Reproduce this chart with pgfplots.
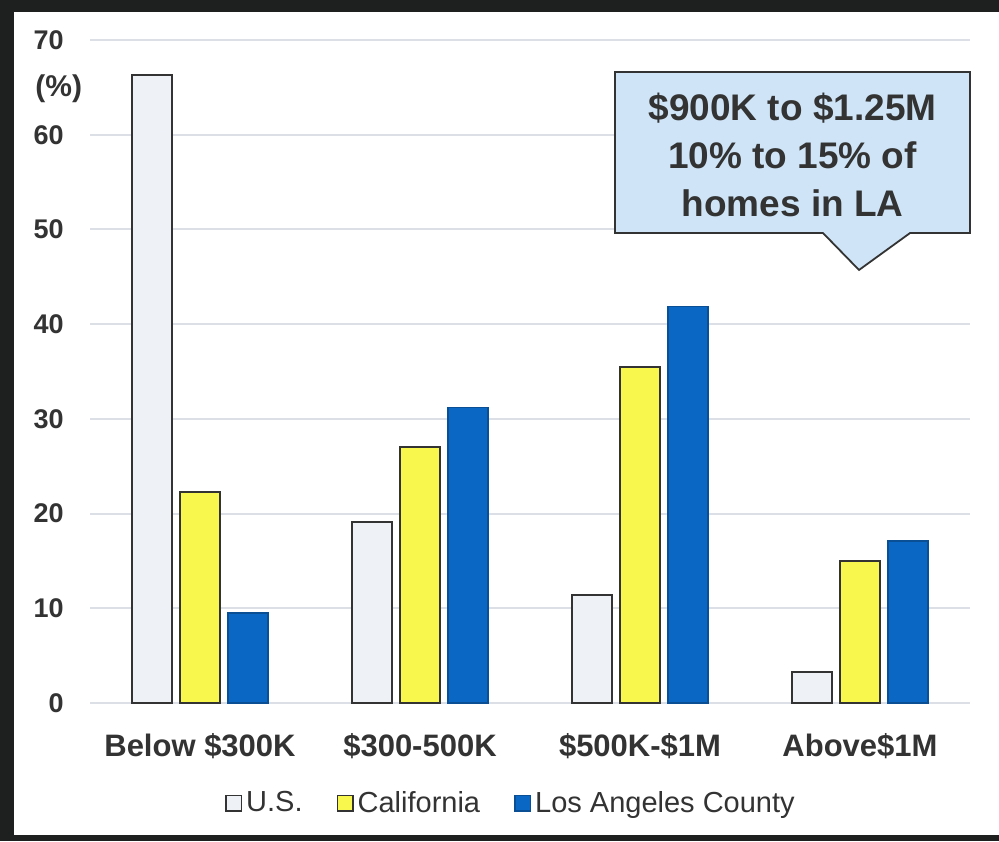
\documentclass[border=0pt]{standalone}
\usepackage{pgfplots}
\pgfplotsset{compat=1.18}
\usepackage{fontspec}
\setmainfont{Liberation Sans}
\definecolor{framedark}{HTML}{1E2020}
\definecolor{usfill}{HTML}{EEF1F6}
\definecolor{cafill}{HTML}{F7F74E}
\definecolor{lafill}{HTML}{0A68C4}
\definecolor{ladraw}{HTML}{0A4E94}
\definecolor{edgegray}{HTML}{333333}
\definecolor{gridgray}{HTML}{DCDFE6}
\definecolor{textgray}{HTML}{333333}
\definecolor{calloutfill}{HTML}{CFE5F7}
\begin{document}
\begin{tikzpicture}
\fill[framedark] (0pt,0pt) rectangle (499.5pt,420.5pt);
\fill[white] (7pt,3pt) rectangle (499.5pt,414.5pt);
\begin{axis}[
  at={(45pt,69pt)}, anchor=south west,
  scale only axis, width=440pt, height=331.5pt,
  ybar, bar width=0.182,
  xmin=-0.5, xmax=3.5, ymin=0, ymax=70,
  ytick={0,10,...,70},
  xtick={0,1,2,3},
  xticklabels={Below \$300K, \$300-500K, \$500K-\$1M, Above\$1M},
  ymajorgrids, grid style={gridgray, line width=1pt},
  axis line style={draw=none},
  major tick length=0pt,
  /pgf/number format/assume math mode=true,
  yticklabel style={font=\fontsize{13.5}{13.5}\selectfont\bfseries, text=textgray, anchor=east, inner sep=0pt, xshift=-13pt},
  xticklabel style={font=\fontsize{15.5}{16}\selectfont\bfseries, text=textgray, anchor=base, inner sep=0pt, yshift=-26.5pt},
  clip=false,
  legend style={at={(0.4795,-0.151)}, anchor=center, draw=none, fill=none,
    legend columns=-1, font=\fontsize{14.5}{15}\selectfont, text=textgray,
    /tikz/every even column/.append style={column sep=15pt},
    nodes={inner sep=2pt}},
  legend image code/.code={\draw[#1, line width=0.7pt] (0pt,-3.9pt) rectangle (7.8pt,3.9pt);},
]
\addplot[fill=usfill, draw=edgegray, line width=1.1pt, bar shift=-0.218] coordinates {(0,66.3) (1,19.1) (2,11.4) (3,3.3)};
\addplot[fill=cafill, draw=edgegray, line width=1.1pt, bar shift=0] coordinates {(0,22.3) (1,27.0) (2,35.5) (3,15.0)};
\addplot[fill=lafill, draw=ladraw, line width=0.6pt, bar shift=0.218] coordinates {(0,9.5) (1,31.2) (2,41.9) (3,17.1)};
\legend{U.S., California, Los Angeles County}
\draw[edgegray, fill=calloutfill, line width=0.9pt]
  (axis cs:1.8864,66.62) -- (axis cs:3.5,66.62) -- (axis cs:3.5,49.62) -- (axis cs:3.2273,49.62)
  -- (axis cs:2.9955,45.72) -- (axis cs:2.8318,49.62) -- (axis cs:1.8864,49.62) -- cycle;
\node[align=center, text=textgray, font=\fontsize{18.5}{24}\selectfont\bfseries, inner sep=0pt]
  at (axis cs:2.6932,57.9) {\$900K to \$1.25M\\10\% to 15\% of\\homes in LA};
\end{axis}
\node[anchor=west, inner sep=0pt, text=textgray, font=\fontsize{15}{15}\selectfont\bfseries] at (17.5pt,376pt) {(\%)};
\end{tikzpicture}
\end{document}
